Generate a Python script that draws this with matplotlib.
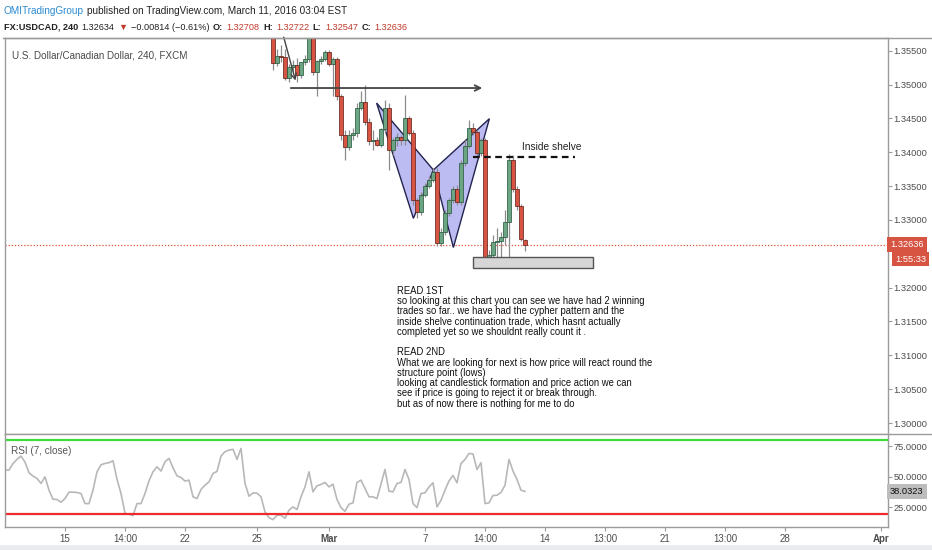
import matplotlib
matplotlib.use('Agg')
import matplotlib.pyplot as plt
from matplotlib.patches import Polygon, Rectangle
from matplotlib.transforms import blended_transform_factory

plt.rcParams['font.family'] = ['Liberation Sans', 'DejaVu Sans']

# 4h USDCAD bars still visible in the price pane (bar index 52..115)
first_bar = 52
opens = [1.35806, 1.35318, 1.35422, 1.35407, 1.35097, 1.35259, 1.35289, 1.35141, 1.35333, 1.35377,
         1.35776, 1.35185, 1.35348, 1.35377, 1.35481, 1.35304, 1.35377, 1.34831, 1.34255, 1.34078,
         1.34255, 1.34284, 1.34654, 1.34742, 1.34447, 1.34166, 1.34181, 1.34107, 1.34343, 1.34654,
         1.34033, 1.34181, 1.34225, 1.34181, 1.34506, 1.34284, 1.33295, 1.33118, 1.33369, 1.33501,
         1.33590, 1.33708, 1.32660, 1.32822, 1.33103, 1.33295, 1.33457, 1.33265, 1.33841, 1.34092,
         1.34358, 1.34299, 1.33989, 1.34181, 1.32453, 1.32482, 1.32675, 1.32690, 1.32748, 1.32970,
         1.33886, 1.33457, 1.33206, 1.32708]
highs = [1.35924, 1.35525, 1.35584, 1.35525, 1.35304, 1.35363, 1.35392, 1.35333, 1.35436, 1.35880,
         1.35835, 1.35363, 1.35422, 1.35510, 1.35510, 1.35407, 1.35407, 1.34860, 1.34329, 1.34329,
         1.34358, 1.34727, 1.34905, 1.34993, 1.34506, 1.34329, 1.34225, 1.34358, 1.34772, 1.34727,
         1.34210, 1.34284, 1.34255, 1.34846, 1.34535, 1.34329, 1.33324, 1.33413, 1.33546, 1.33649,
         1.33767, 1.33767, 1.32881, 1.33147, 1.33324, 1.33501, 1.33516, 1.33886, 1.34181, 1.34476,
         1.34432, 1.34329, 1.34210, 1.34210, 1.32556, 1.32778, 1.32881, 1.32822, 1.33147, 1.33974,
         1.33959, 1.33501, 1.33236, 1.32722]
lows = [1.35215, 1.35274, 1.35333, 1.35067, 1.35038, 1.35185, 1.35038, 1.35097, 1.35289, 1.35333,
        1.35141, 1.34831, 1.35304, 1.35348, 1.35274, 1.34831, 1.34772, 1.34181, 1.33886, 1.34033,
        1.34181, 1.34225, 1.34624, 1.34403, 1.34107, 1.34033, 1.34092, 1.34078, 1.34299, 1.33738,
        1.33959, 1.34092, 1.34107, 1.34107, 1.34255, 1.33221, 1.33029, 1.33074, 1.33339, 1.33472,
        1.33561, 1.32615, 1.32615, 1.32778, 1.33059, 1.33251, 1.33221, 1.33221, 1.33797, 1.34063,
        1.34255, 1.33945, 1.33945, 1.32379, 1.32335, 1.32379, 1.32335, 1.32438, 1.32630, 1.32305,
        1.33413, 1.33147, 1.32690, 1.32547]
closes = [1.35318, 1.35422, 1.35407, 1.35097, 1.35259, 1.35289, 1.35141, 1.35333, 1.35377, 1.35776,
          1.35185, 1.35348, 1.35377, 1.35481, 1.35304, 1.35377, 1.34831, 1.34255, 1.34078, 1.34255,
          1.34284, 1.34654, 1.34742, 1.34447, 1.34166, 1.34181, 1.34107, 1.34343, 1.34654, 1.34033,
          1.34181, 1.34225, 1.34181, 1.34506, 1.34284, 1.33295, 1.33118, 1.33369, 1.33501, 1.33590,
          1.33708, 1.32660, 1.32822, 1.33103, 1.33295, 1.33457, 1.33265, 1.33841, 1.34092, 1.34358,
          1.34299, 1.33989, 1.34181, 1.32453, 1.32482, 1.32675, 1.32690, 1.32748, 1.32970, 1.33886,
          1.33457, 1.33206, 1.32719, 1.32636]

# RSI(7) from bar index -15 to 115
rsi_first_bar = -15
rsi = [55.5, 55.5, 60.9, 64.2, 66.9, 62.0, 53.3, 50.6, 48.7, 44.6,
       50.0, 39.1, 31.8, 31.5, 29.3, 32.3, 37.5, 37.5, 37.2, 36.4,
       28.2, 28.2, 39.1, 54.1, 59.8, 60.9, 61.5, 63.1, 48.1, 36.4,
       20.3, 19.5, 18.4, 28.2, 28.2, 36.4, 46.7, 54.1, 58.2, 54.7,
       62.3, 65.0, 57.4, 50.8, 49.5, 46.5, 47.3, 33.7, 32.3, 39.7,
       43.2, 45.9, 52.7, 54.4, 66.9, 70.5, 71.8, 72.4, 64.2, 73.2,
       44.6, 34.2, 36.9, 36.7, 33.7, 21.4, 16.7, 15.1, 18.7, 18.7,
       16.2, 22.8, 25.5, 23.3, 33.7, 41.8, 54.1, 37.8, 42.7, 43.8,
       45.4, 41.8, 44.0, 31.5, 24.9, 21.9, 27.7, 28.8, 45.4, 47.3,
       40.5, 33.7, 33.7, 32.3, 44.0, 56.0, 38.3, 37.8, 44.6, 45.4,
       56.0, 47.8, 28.2, 24.9, 36.4, 36.9, 41.8, 45.1, 25.5,
       30.9, 39.1, 46.7, 51.1, 45.1, 60.9, 64.2, 69.1, 68.6, 56.0,
       61.5, 28.2, 28.8, 34.8, 35.0, 37.2, 43.2, 64.2, 54.7, 47.8, 39.1, 38.0323]
rsi_upper = 80
rsi_lower = 20

price_ticks = [1.30, 1.305, 1.31, 1.315, 1.32, 1.33, 1.335, 1.34, 1.345, 1.35, 1.355]
rsi_ticks = [25, 50, 75]
x_ticks = [0, 15, 30, 48, 66, 90, 105, 120, 135, 150, 165, 180, 204]
x_labels = ['15', '14:00', '22', '25', 'Mar', '7', '14:00', '14', '13:00', '21', '13:00', '28', 'Apr']

last_price = 1.32636
countdown = '1:55:33'
last_rsi = 38.0323

# drawings
cypher_x = [77.9, 87.1, 92.1, 97.1, 106.1]
cypher_y = [1.34727, 1.33024, 1.33738, 1.32593, 1.34496]
hline_x = [55.75, 105.0]
hline_y = 1.34949
slant_x = [54.5, 57.8]
slant_y = [1.3574, 1.3502]
shelf_x = [102, 127.5]
shelf_y = 1.33934
box_x = [102, 132]
box_y = [1.32290, 1.32453]

note = ("READ 1ST\n"
        "so looking at this chart you can see we have had 2 winning\n"
        "trades so far.. we have had the cypher pattern and the\n"
        "inside shelve continuation trade, which hasnt actually\n"
        "completed yet so we shouldnt really count it .\n"
        "\n"
        "READ 2ND\n"
        "What we are looking for next is how price will react round the\n"
        "structure point (lows)\n"
        "looking at candlestick formation and price action we can\n"
        "see if price is going to reject it or break through.\n"
        "but as of now there is nothing for me to do")

W, H = 932, 550
UP, DOWN = '#6ba583', '#d75442'
UP_EDGE, DOWN_EDGE = '#225437', '#5b1a13'
GRID = '#9b9b9b'
LABEL = '#4d4d4d'
TICK_SIZE = 6.7

fig = plt.figure(figsize=(W / 100, H / 100), dpi=100)
fig.patch.set_facecolor('white')

ax = fig.add_axes([5 / W, 1 - 434 / H, 883 / W, 396 / H])
rax = fig.add_axes([5 / W, 1 - 527 / H, 883 / W, 93 / H], sharex=ax)

# cypher pattern (under the candles)
left = list(zip(cypher_x[:3], cypher_y[:3]))
right = list(zip(cypher_x[2:], cypher_y[2:]))
for pts in (left, right):
    ax.add_patch(Polygon(pts, closed=True, facecolor='#bcbcf3',
                         edgecolor='#23234f', lw=1.0, zorder=1.5))

# candles
xs = [first_bar + k for k in range(len(opens))]
ax.vlines(xs, lows, highs, color='#8c8c8c', lw=0.9, zorder=2)
bottoms = [min(o, c) for o, c in zip(opens, closes)]
heights = [max(abs(c - o), 0.00004) for o, c in zip(opens, closes)]
up = [c >= o for o, c in zip(opens, closes)]
ax.bar(xs, heights, bottom=bottoms, width=0.8,
       color=[UP if u else DOWN for u in up],
       edgecolor=[UP_EDGE if u else DOWN_EDGE for u in up], linewidth=0.5, zorder=3)

ax.axhline(last_price, color='#e0533e', lw=0.9, ls=(0, (1, 1.5)), zorder=1)

ax.annotate('', xy=(hline_x[1], hline_y), xytext=(hline_x[0], hline_y),
            arrowprops=dict(arrowstyle='->', color='#444444', lw=1.3), zorder=5)
ax.annotate('', xy=(slant_x[1], slant_y[1]), xytext=(slant_x[0], slant_y[0]),
            arrowprops=dict(arrowstyle='->', color='#444444', lw=1.0), zorder=5)
ax.plot(shelf_x, [shelf_y, shelf_y], color='#111111', lw=1.6, ls=(0, (3, 2)), zorder=5)
ax.text(sum(shelf_x) / 2 + 7, shelf_y + 0.0014, 'Inside shelve', fontsize=7.3,
        ha='center', va='center', color='#222222')
ax.add_patch(Rectangle((box_x[0], box_y[0]), box_x[1] - box_x[0], box_y[1] - box_y[0],
                       facecolor='#d6d6d6', edgecolor='#555555', lw=1.0, zorder=5))

ax.text(83, 1.32025, note, fontsize=6.85, va='top', ha='left', color='#111111',
        linespacing=1.03)

ax.text(0.008, 0.955, 'U.S. Dollar/Canadian Dollar, 240, FXCM', transform=ax.transAxes,
        fontsize=7.1, color='#4a4a4a', va='center', ha='left')

ax.set_xlim(-15, 205.75)
ax.set_ylim(1.29838, 1.35688)
ax.yaxis.tick_right()
ax.set_yticks(price_ticks)
ax.set_yticklabels(['%.5f' % p for p in price_ticks])
ax.tick_params(axis='y', direction='out', length=3, width=0.8, color=GRID,
               labelcolor=LABEL, labelsize=TICK_SIZE, pad=1)
ax.tick_params(axis='x', bottom=False, labelbottom=False)

# last price tags
bt = blended_transform_factory(ax.transAxes, ax.transData)
ax.text(1.002, last_price, '1.32636', transform=bt, fontsize=TICK_SIZE, color='white',
        va='center', ha='left', clip_on=False, zorder=10,
        bbox=dict(boxstyle='square,pad=0.35', fc=DOWN, ec='none'))
ax.text(1.008, last_price - 0.00215, countdown, transform=bt, fontsize=TICK_SIZE, color='white',
        va='center', ha='left', clip_on=False, zorder=10,
        bbox=dict(boxstyle='square,pad=0.3', fc=DOWN, ec='none'))

# RSI pane
rx = [rsi_first_bar + k for k in range(len(rsi))]
rax.plot(rx, rsi, color='#b8b8b8', lw=1.2)
rax.axhline(rsi_upper, color='#3ddc3d', lw=1.6)
rax.axhline(rsi_lower, color='#ee2a2a', lw=1.6)
rax.set_ylim(9.1, 84.9)
rax.yaxis.tick_right()
rax.set_yticks(rsi_ticks)
rax.set_yticklabels(['%.4f' % v for v in rsi_ticks])
rax.tick_params(axis='y', direction='out', length=3, width=0.8, color=GRID,
                labelcolor=LABEL, labelsize=TICK_SIZE, pad=1)
rax.set_xticks(x_ticks)
rax.set_xticklabels(x_labels)
rax.tick_params(axis='x', direction='out', length=3, width=0.8, color=GRID,
                labelcolor=LABEL, labelsize=TICK_SIZE + 0.3, pad=2)
for lab in rax.get_xticklabels():
    if lab.get_text() in ('Mar', 'Apr'):
        lab.set_fontweight('bold')
rax.text(0.007, 0.82, 'RSI (7, close)', transform=rax.transAxes, fontsize=7.2,
         color='#555555', va='center', ha='left')
rbt = blended_transform_factory(rax.transAxes, rax.transData)
rax.text(1.002, last_rsi, '38.0323', transform=rbt, fontsize=TICK_SIZE, color='#111111',
         va='center', ha='left', clip_on=False, zorder=10,
         bbox=dict(boxstyle='square,pad=0.35', fc='#bdbdbd', ec='none'))

for a in (ax, rax):
    for s in a.spines.values():
        s.set_color(GRID)
        s.set_linewidth(1.0)

# frame lines across the price scale
fig.add_artist(plt.Line2D([3 / W, 1], [1 - 38 / H, 1 - 38 / H], color=GRID, lw=1.0))
fig.add_artist(plt.Line2D([888 / W, 1], [1 - 434 / H, 1 - 434 / H], color=GRID, lw=1.0))
fig.add_artist(Rectangle((0, 0), 1, 5 / H, transform=fig.transFigure,
                         facecolor='#e9ebee', edgecolor='none'))

# header lines
renderer = fig.canvas.get_renderer()


def text_run(x, y, parts, size, gap):
    for s, color, weight in parts:
        t = fig.text(x / W, 1 - y / H, s, color=color, fontweight=weight, fontsize=size,
                     va='center', ha='left')
        x = t.get_window_extent(renderer).x1 + gap


RED = '#c0392b'
text_run(4, 11, [('OMITradingGroup', '#2a8ad1', 'normal'),
                 ('published on TradingView.com, March 11, 2016 03:04 EST', '#222222', 'normal')],
         7.2, 3)
text_run(4, 27, [('FX:USDCAD, 240', '#222222', 'bold'),
                 ('1.32634', '#222222', 'normal'),
                 ('\u25bc', RED, 'normal'),
                 ('\u22120.00814 (\u22120.61%)', '#222222', 'normal'),
                 ('O:', '#222222', 'bold'), ('1.32708', RED, 'normal'),
                 ('H:', '#222222', 'bold'), ('1.32722', RED, 'normal'),
                 ('L:', '#222222', 'bold'), ('1.32547', RED, 'normal'),
                 ('C:', '#222222', 'bold'), ('1.32636', RED, 'normal')], 6.6, 3.5)

fig.savefig('out.png', dpi=100)
